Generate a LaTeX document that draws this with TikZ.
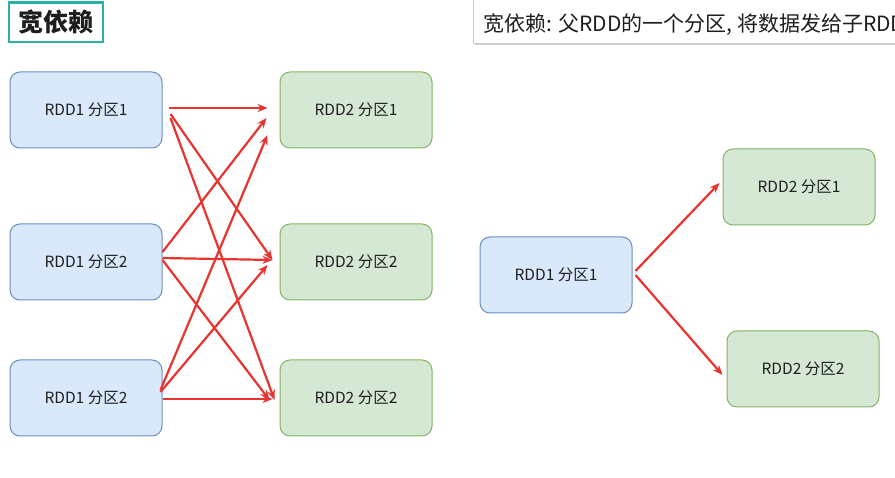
\documentclass[tikz,border=0pt]{standalone}
\usepackage{fontspec}
\setmainfont{Noto Sans CJK SC}
\usetikzlibrary{arrows.meta,calc,shadows}
\definecolor{bfill}{HTML}{DAE8FC}
\definecolor{bdraw}{HTML}{6C8EBF}
\definecolor{gfill}{HTML}{D5E8D4}
\definecolor{gdraw}{HTML}{82B366}
\definecolor{redarr}{HTML}{E8332F}
\definecolor{teal}{HTML}{2BB0A6}
\definecolor{txt}{HTML}{1E1E1E}
\tikzset{
  part/.style={rounded corners=10pt, minimum width=152pt, minimum height=76pt, line width=1pt, font=\fontsize{15.5}{18}\selectfont, text=txt, inner sep=0pt},
  blue/.style={part, fill=bfill, draw=bdraw},
  green/.style={part, fill=gfill, draw=gdraw},
  arr/.style={draw=redarr, line width=2.2pt, -{Stealth[length=10pt,width=8pt]}},
}
\begin{document}
\begin{tikzpicture}[x=1pt,y=-1pt]
\useasboundingbox[fill=white] (0,0) rectangle (895,478);
% title
\node[draw=teal, line width=1.5pt, minimum width=94pt, minimum height=40pt, inner sep=0pt, font=\fontsize{25}{28}\selectfont\bfseries, text=txt] (title) at (56,22) {宽依赖};
\fill[teal] (title.north west) rectangle ($(title.north east)+(0,3)$);
% note box
\node[draw=gray!40, fill=white, drop shadow={shadow xshift=1.5pt, shadow yshift=-1.5pt, opacity=0.35}, minimum width=440pt, minimum height=48pt, anchor=north west, inner sep=0pt] (note) at (473,-5) {};
\node[anchor=west, font=\fontsize{21}{24}\selectfont, text=txt, inner sep=0pt] (notetext) at (483,25) {宽依赖: 父RDD的一个分区, 将数据发给子RDD};
% left group
\node[blue] (a1) at (86,110) {RDD1 分区1};
\node[blue] (a2) at (86,262) {RDD1 分区2};
\node[blue] (a3) at (86,398) {RDD1 分区2};
\node[green] (b1) at (356,110) {RDD2 分区1};
\node[green] (b2) at (356,262) {RDD2 分区2};
\node[green] (b3) at (356,398) {RDD2 分区2};
\draw[arr] ($(a1.east)+(6,-2)$) -- ($(b1.west)+(-12,-2)$);
\draw[arr] ($(a1.east)+(8,4)$) -- ($(b2.west)+(-7,-2)$);
\draw[arr] ($(a1.east)+(8,8)$) -- ($(b3.west)+(-5,2)$);
\draw[arr] ($(a2.east)+(0,-10)$) -- ($(b1.west)+(-13,8)$);
\draw[arr] ($(a2.east)+(0,-4)$) -- ($(b2.west)+(-7,-2)$);
\draw[arr] ($(a2.east)+(0,-2)$) -- ($(b3.west)+(-10,2)$);
\draw[arr] ($(a3.east)+(-2,-8)$) -- ($(b1.west)+(-12,25)$);
\draw[arr] ($(a3.east)+(-2,-6)$) -- ($(b2.west)+(-12,3)$);
\draw[arr] ($(a3.east)+(0,1)$) -- ($(b3.west)+(-7,1)$);
% right group
\node[blue] (c1) at (556,275) {RDD1 分区1};
\node[green] (d1) at (799,187) {RDD2 分区1};
\node[green] (d2) at (803,369) {RDD2 分区2};
\draw[arr] ($(c1.east)+(3,-4)$) -- ($(d1.west)+(-3,-4)$);
\draw[arr] ($(c1.east)+(3,0)$) -- ($(d2.west)+(-4,6)$);
\end{tikzpicture}
\end{document}
